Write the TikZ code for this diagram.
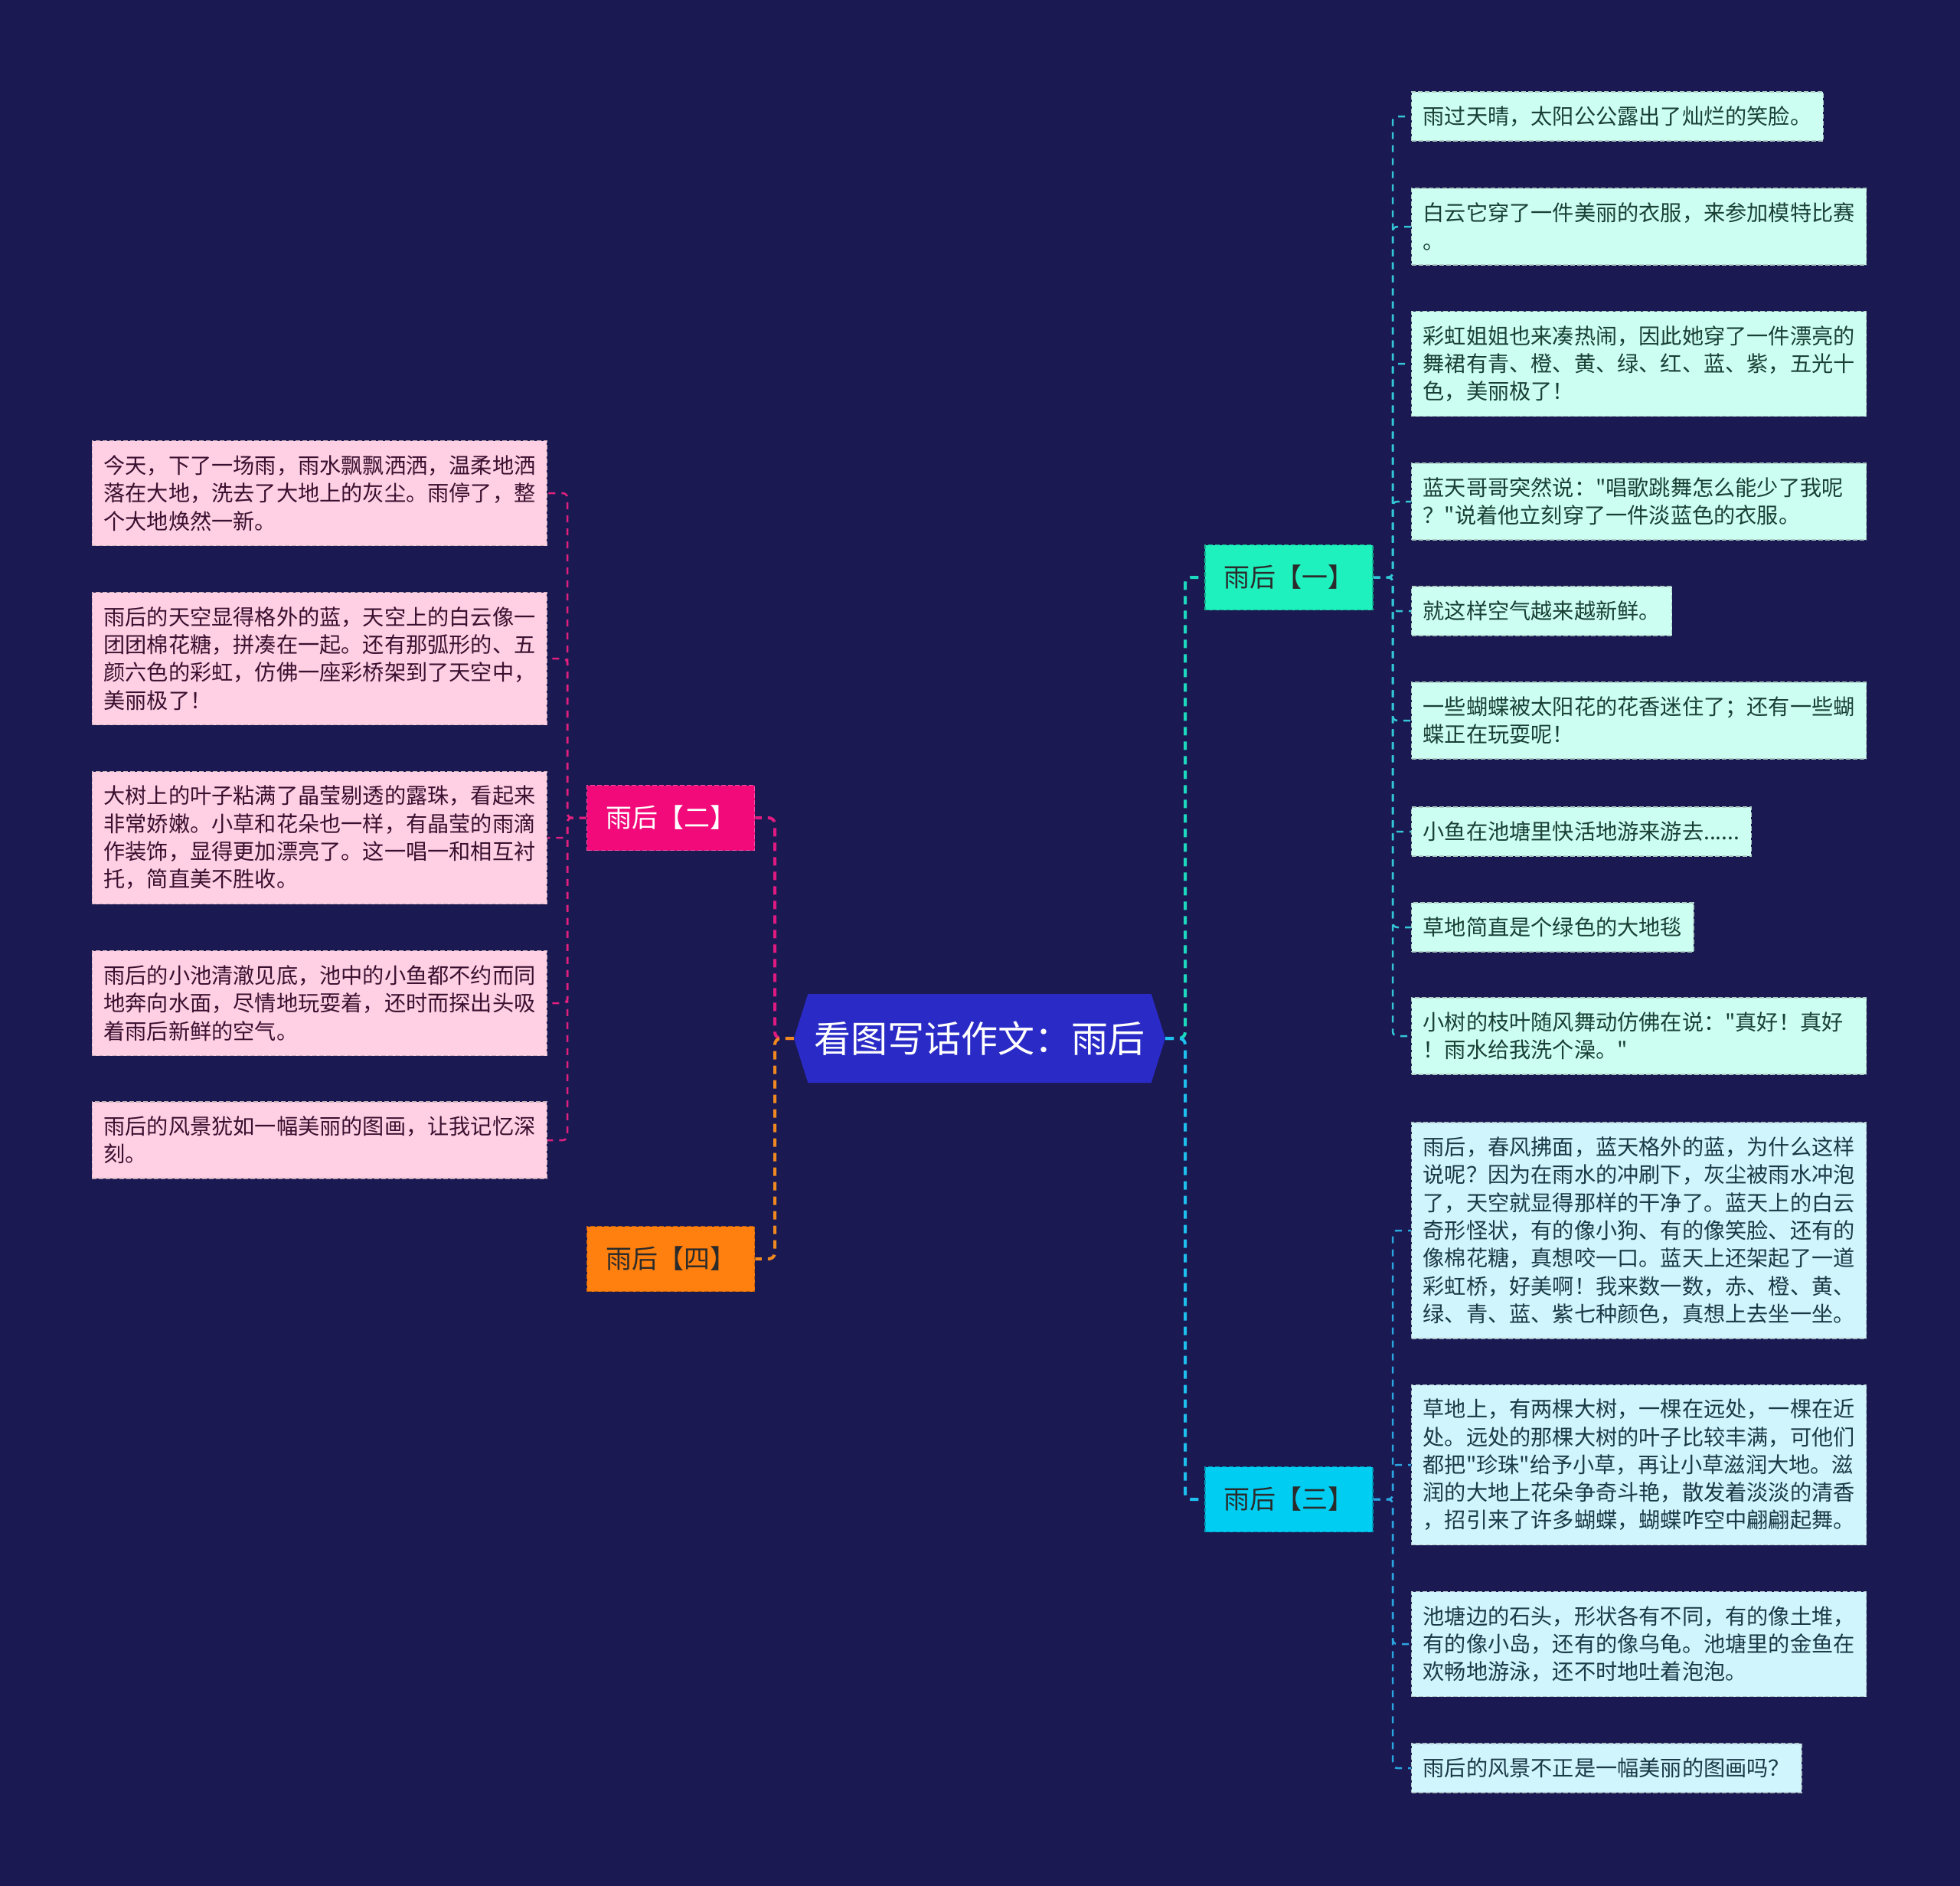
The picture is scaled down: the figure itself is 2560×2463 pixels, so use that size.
\documentclass[tikz,border=0pt]{standalone}
\usepackage{fontspec}
\newfontfamily\cjkfont{Noto Sans CJK SC}
\usetikzlibrary{shapes.symbols}
\definecolor{bg}{HTML}{1B1952}
\definecolor{centerfill}{HTML}{2A2BC6}
\definecolor{fillA}{HTML}{1EF0BE}
\definecolor{fillB}{HTML}{F20A7A}
\definecolor{fillC}{HTML}{00CDF2}
\definecolor{fillD}{HTML}{FF800F}
\definecolor{leafA}{HTML}{CCFFF1}
\definecolor{leafB}{HTML}{FFD0E3}
\definecolor{leafC}{HTML}{D1F5FC}
\definecolor{txtA}{HTML}{1A4036}
\definecolor{txtB}{HTML}{3A1030}
\definecolor{txtC}{HTML}{1A3A48}
\definecolor{txtD}{HTML}{2B2B2B}
\definecolor{lineA}{HTML}{1DD9BE}
\definecolor{lineB}{HTML}{E01A80}
\definecolor{lineC}{HTML}{1EC0EE}
\definecolor{lineD}{HTML}{F08A20}
\definecolor{subA}{HTML}{33C6D6}
\definecolor{subB}{HTML}{E0207E}
\definecolor{subC}{HTML}{2AA6E0}
\tikzset{
  leafbase/.style={rectangle, dash pattern=on 6pt off 3pt, line width=1.2pt,
    font=\cjkfont\fontsize{28.2}{36.3}\selectfont, align=left, inner xsep=15pt, inner ysep=3pt},
  wide/.style={text width=564pt},
  leafa/.style={leafbase, fill=leafA, draw=leafA!60!gray, text=txtA, anchor=west},
  leafc/.style={leafbase, fill=leafC, draw=leafC!60!gray, text=txtC, anchor=west},
  leafb/.style={leafbase, wide, fill=leafB, draw=leafB!60!gray, text=txtB, anchor=east},
  branchbox/.style={rectangle, font=\cjkfont\fontsize{34}{40}\selectfont, minimum width=219pt,
    minimum height=85pt, inner sep=0pt, dash pattern=on 6pt off 3pt, line width=1.5pt},
  mainconn/.style={line width=4pt, dash pattern=on 11pt off 8pt, rounded corners=8pt},
  subconn/.style={line width=2.5pt, dash pattern=on 9pt off 8pt, rounded corners=6pt}
}
\begin{document}
\begin{tikzpicture}[x=1pt,y=-1pt]
\fill[bg] (0,0) rectangle (2560,2463);
\useasboundingbox (0,0) rectangle (2560,2463);

% center
\node[signal, signal to=west and east, signal pointer angle=145, fill=centerfill, text=white,
  font=\cjkfont\fontsize{48}{56}\selectfont, minimum width=485pt, minimum height=116pt, inner sep=0pt]
  (c) at (1279.5,1356) {看图写话作文：雨后};

% branches
\node[branchbox, fill=fillA, draw=fillA!75!black, text=txtD] (b1) at (1683.5,754) {雨后【一】};
\node[branchbox, fill=fillC, draw=fillC!75!black, text=txtD] (b3) at (1683.5,1958) {雨后【三】};
\node[branchbox, fill=fillB, draw=fillB!70!white, text=white] (b2) at (876,1068) {雨后【二】};
\node[branchbox, fill=fillD, draw=fillD!75!black, text=txtD] (b4) at (876,1644) {雨后【四】};

% leaves of branch 1
\node[leafa, minimum height=64pt] (r1) at (1843,152) {雨过天晴，太阳公公露出了灿烂的笑脸。};
\node[leafa, wide, minimum height=100pt] (r2) at (1843,296) {白云它穿了一件美丽的衣服，来参加模特比赛\\。};
\node[leafa, wide, minimum height=137pt] (r3) at (1843,475) {彩虹姐姐也来凑热闹，因此她穿了一件漂亮的\\舞裙有青、橙、黄、绿、红、蓝、紫，五光十\\色，美丽极了！};
\node[leafa, wide, minimum height=100pt] (r4) at (1843,655) {蓝天哥哥突然说："唱歌跳舞怎么能少了我呢\\？"说着他立刻穿了一件淡蓝色的衣服。};
\node[leafa, minimum height=64pt] (r5) at (1843,798) {就这样空气越来越新鲜。};
\node[leafa, wide, minimum height=100pt] (r6) at (1843,941) {一些蝴蝶被太阳花的花香迷住了；还有一些蝴\\蝶正在玩耍呢！};
\node[leafa, minimum height=64pt] (r7) at (1843,1086) {小鱼在池塘里快活地游来游去......};
\node[leafa, minimum height=64pt] (r8) at (1843,1211) {草地简直是个绿色的大地毯};
\node[leafa, wide, minimum height=100pt] (r9) at (1843,1353) {小树的枝叶随风舞动仿佛在说："真好！真好\\！雨水给我洗个澡。"};

% leaves of branch 3
\node[leafc, wide, minimum height=282pt] (s1) at (1843,1607) {雨后，春风拂面，蓝天格外的蓝，为什么这样\\说呢？因为在雨水的冲刷下，灰尘被雨水冲泡\\了，天空就显得那样的干净了。蓝天上的白云\\奇形怪状，有的像小狗、有的像笑脸、还有的\\像棉花糖，真想咬一口。蓝天上还架起了一道\\彩虹桥，好美啊！我来数一数，赤、橙、黄、\\绿、青、蓝、紫七种颜色，真想上去坐一坐。};
\node[leafc, wide, minimum height=209pt] (s2) at (1843,1913) {草地上，有两棵大树，一棵在远处，一棵在近\\处。远处的那棵大树的叶子比较丰满，可他们\\都把"珍珠"给予小草，再让小草滋润大地。滋\\润的大地上花朵争奇斗艳，散发着淡淡的清香\\，招引来了许多蝴蝶，蝴蝶咋空中翩翩起舞。};
\node[leafc, wide, minimum height=137pt] (s3) at (1843,2147) {池塘边的石头，形状各有不同，有的像土堆，\\有的像小岛，还有的像乌龟。池塘里的金鱼在\\欢畅地游泳，还不时地吐着泡泡。};
\node[leafc, minimum height=64pt] (s4) at (1843,2309) {雨后的风景不正是一幅美丽的图画吗？};

% leaves of branch 2
\node[leafb, minimum height=137pt] (l1) at (715,644) {今天，下了一场雨，雨水飘飘洒洒，温柔地洒\\落在大地，洗去了大地上的灰尘。雨停了，整\\个大地焕然一新。};
\node[leafb, minimum height=173pt] (l2) at (715,860) {雨后的天空显得格外的蓝，天空上的白云像一\\团团棉花糖，拼凑在一起。还有那弧形的、五\\颜六色的彩虹，仿佛一座彩桥架到了天空中，\\美丽极了！};
\node[leafb, minimum height=173pt] (l3) at (715,1094) {大树上的叶子粘满了晶莹剔透的露珠，看起来\\非常娇嫩。小草和花朵也一样，有晶莹的雨滴\\作装饰，显得更加漂亮了。这一唱一和相互衬\\托，简直美不胜收。};
\node[leafb, minimum height=137pt] (l4) at (715,1310) {雨后的小池清澈见底，池中的小鱼都不约而同\\地奔向水面，尽情地玩耍着，还时而探出头吸\\着雨后新鲜的空气。};
\node[leafb, minimum height=100pt] (l5) at (715,1489) {雨后的风景犹如一幅美丽的图画，让我记忆深\\刻。};

% main connectors
\draw[mainconn, lineA] (c.east) -- (1548,1356) |- (b1.west);
\draw[mainconn, lineC] (c.east) -- (1548,1356) |- (b3.west);
\draw[mainconn, lineB] (c.west) -- (1012,1356) |- (b2.east);
\draw[mainconn, lineD] (c.west) -- (1012,1356) |- (b4.east);

% sub connectors
\foreach \n in {r1,r2,r3,r4,r5,r6,r7,r8,r9}
  \draw[subconn, subA] (b1.east) -- (1819,754) |- (\n.west);
\foreach \n in {s1,s2,s3,s4}
  \draw[subconn, subC] (b3.east) -- (1819,1958) |- (\n.west);
\foreach \n in {l1,l2,l3,l4,l5}
  \draw[subconn, subB] (b2.west) -- (741,1068) |- (\n.east);
\end{tikzpicture}
\end{document}
